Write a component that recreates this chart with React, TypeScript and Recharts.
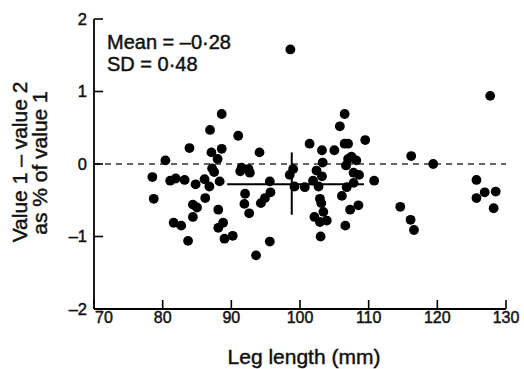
import React from "react";
import {
  ReferenceLine,
  Scatter,
  ScatterChart,
  XAxis,
  YAxis,
} from "recharts";

// leg length (mm) for each subject
const legLength = [
  88.6, 86.9, 91.0, 83.9, 87.1, 88.6, 88.0, 94.1, 80.4, 87.2, 87.5, 91.5,
  91.3, 92.5, 92.7, 78.5, 81.1, 81.9, 83.2, 84.8, 86.1, 86.8, 88.3, 78.7,
  86.2, 84.4, 85.0, 88.1, 92.0, 91.9, 92.6, 84.4, 81.6, 82.7, 88.8, 88.1,
  89.0, 90.2, 83.7, 93.6,
  106.5, 105.8, 109.5, 101.4, 103.2, 105.0, 106.5, 107.0, 99.0, 98.5, 103.3,
  102.4, 103.2, 107.0, 107.5, 108.2, 106.7, 107.8, 108.6, 110.8, 95.6, 99.2,
  100.7, 101.9, 102.7, 107.8, 106.8, 106.1, 95.7, 94.9, 94.3, 102.9, 103.1,
  107.3, 108.5, 102.1, 102.9, 103.9, 103.4, 106.6, 103.0, 95.6, 98.6,
  116.2, 119.4, 114.6, 116.1, 116.6, 125.7, 125.7, 126.9, 128.5, 128.2, 127.7,
];

// (value 1 - value 2) as % of value 1
const difference = [
  0.69, 0.47, 0.39, 0.22, 0.16, 0.21, 0.07, 0.16, 0.05, -0.06, -0.11, -0.05,
  -0.1, -0.07, -0.12, -0.18, -0.23, -0.2, -0.22, -0.28, -0.21, -0.31, -0.24,
  -0.48, -0.47, -0.56, -0.6, -0.63, -0.41, -0.55, -0.68, -0.73, -0.81, -0.85,
  -0.81, -0.88, -1.03, -0.99, -1.06, -1.26,
  0.69, 0.52, 0.33, 0.28, 0.19, 0.19, 0.28, 0.28, -0.07, -0.15, 0.02, -0.09,
  -0.17, 0.07, 0.1, 0.05, -0.02, -0.12, -0.15, -0.23, -0.24, -0.31, -0.32,
  -0.23, -0.31, -0.26, -0.32, -0.44, -0.39, -0.47, -0.54, -0.48, -0.54, -0.63,
  -0.57, -0.73, -0.8, -0.78, -0.66, -0.85, -1.0, -1.07, 1.58,
  0.11, 0.0, -0.59, -0.77, -0.91, -0.22, -0.47, -0.39, -0.38, -0.61, 0.94,
];

const xTicks = [70, 80, 90, 100, 110, 120, 130];
const yTicks = [-2, -1, 0, 1, 2];

const meanDiff = -0.28;
const sdDiff = 0.48;
const meanLineX = [89.4, 109.3];
const sdBarX = 98.8;
const sdBarY = [0.16, -0.7];

const points = legLength.map((x, i) => ({ x, y: difference[i] }));

const FONT = '"Liberation Sans", Arial, Helvetica, sans-serif';
const INK = "#111";
const fmt = (v: number) => (v < 0 ? `–${Math.abs(v)}` : `${v}`);

// scanned text looks a bit heavier than regular weight
const textStyle = { stroke: INK, strokeWidth: 0.45 };

const XTick = (props: any) => {
  const { x, y, payload } = props;
  const first = payload.value === xTicks[0];
  return (
    <g>
      <line x1={x} x2={x} y1={y} y2={y - 9} stroke="#000" strokeWidth={1.6} />
      <text
        x={first ? x + 1 : x}
        y={y + 14}
        textAnchor={first ? "start" : "middle"}
        fontFamily={FONT}
        fontSize={16}
        fill={INK}
        style={textStyle}
      >
        {fmt(payload.value)}
      </text>
    </g>
  );
};

const YTick = (props: any) => {
  const { x, y, payload } = props;
  return (
    <g>
      <line x1={x} x2={x + 9} y1={y} y2={y} stroke="#000" strokeWidth={1.6} />
      <text
        x={x - 7}
        y={y}
        dy="0.36em"
        textAnchor="end"
        fontFamily={FONT}
        fontSize={16.5}
        fill={INK}
        style={textStyle}
      >
        {fmt(payload.value)}
      </text>
    </g>
  );
};

const Annotations = () => (
  <g fontFamily={FONT} fill={INK} style={textStyle}>
    <text x={107} y={49} fontSize={20}>
      Mean = {fmt(meanDiff).replace(".", "·")}
    </text>
    <text x={107} y={71} fontSize={20}>
      SD = {String(sdDiff).replace(".", "·")}
    </text>
    <text x={304} y={364} fontSize={21} textAnchor="middle">
      Leg length (mm)
    </text>
  </g>
);

const YTitle = () => (
  <g fontFamily={FONT} fill={INK} fontSize={21} style={textStyle}>
    <text transform="translate(27,162) rotate(-90)" textAnchor="middle">
      Value 1 – value 2
    </text>
    <text transform="translate(47,163) rotate(-90)" textAnchor="middle">
      as % of value 1
    </text>
  </g>
);

const Dot = (props: any) => (
  <circle cx={props.cx} cy={props.cy} r={4.9} fill="#000" />
);

export default function App() {
  return (
    <div
      style={{
        position: "absolute",
        left: 0,
        top: 0,
        width: 524,
        height: 369,
        background: "#fff",
      }}
    >
      <ScatterChart
        width={524}
        height={369}
        margin={{ top: 19, right: 18, bottom: 0, left: 0 }}
      >
        <XAxis
          type="number"
          dataKey="x"
          domain={[70, 130]}
          ticks={xTicks}
          interval={0}
          height={60}
          tickLine={false}
          tickSize={0}
          tickMargin={0}
          tick={<XTick />}
          axisLine={{ stroke: "#000", strokeWidth: 1.8 }}
          label={<Annotations />}
        />
        <YAxis
          type="number"
          dataKey="y"
          domain={[-2, 2]}
          ticks={yTicks}
          interval={0}
          width={94}
          tickLine={false}
          tickSize={0}
          tickMargin={0}
          tick={<YTick />}
          axisLine={{ stroke: "#000", strokeWidth: 1.8 }}
          label={<YTitle />}
        />
        <ReferenceLine
          y={0}
          stroke="#333"
          strokeWidth={1.5}
          strokeDasharray="6 5"
        />
        <ReferenceLine
          segment={[
            { x: meanLineX[0], y: meanDiff },
            { x: meanLineX[1], y: meanDiff },
          ]}
          stroke="#000"
          strokeWidth={2}
        />
        <ReferenceLine
          segment={[
            { x: sdBarX, y: sdBarY[0] },
            { x: sdBarX, y: sdBarY[1] },
          ]}
          stroke="#000"
          strokeWidth={2}
        />
        <Scatter data={points} fill="#000" shape={<Dot />} isAnimationActive={false} />
      </ScatterChart>
    </div>
  );
}
